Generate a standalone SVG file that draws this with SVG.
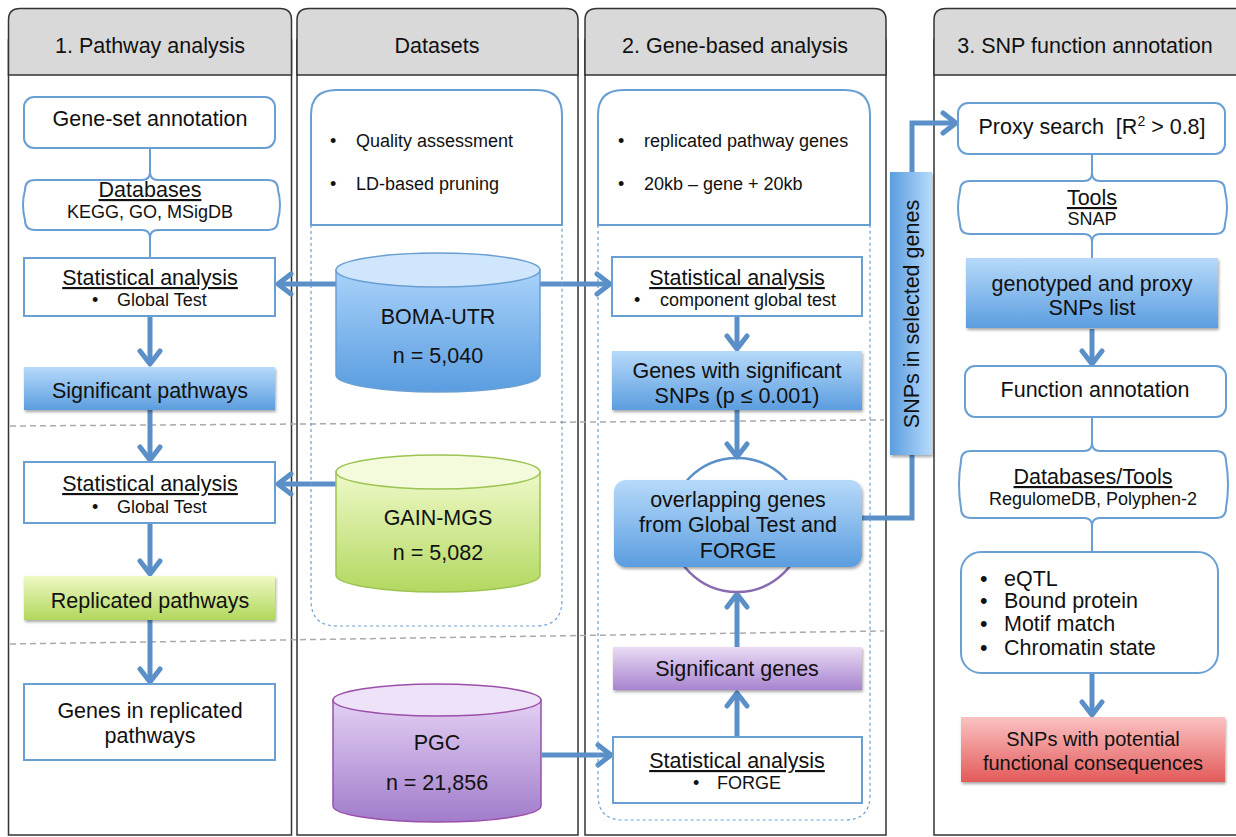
<svg xmlns="http://www.w3.org/2000/svg" width="1236" height="837" viewBox="0 0 1236 837">
<defs>
<style>
text{font-family:"Liberation Sans",Arial,sans-serif;fill:#111;}
.hd{font-size:21.5px;text-anchor:middle;}
.t20{font-size:21.5px;text-anchor:middle;}
.t19{font-size:20px;text-anchor:middle;}
.t16{font-size:18px;}
.t15{font-size:18px;text-anchor:middle;}
.b22{font-size:21.5px;}
.ul{text-decoration:underline;}
.panel{fill:#fff;stroke:#333;stroke-width:1.5;}
.phead{fill:#d9d9d9;stroke:#333;stroke-width:1.5;}
.box{fill:#fff;stroke:#6a9fd4;stroke-width:2;}
.dash{fill:none;stroke:#6a9fd4;stroke-width:1.2;stroke-dasharray:3,3;}
.arr{fill:none;stroke:#5a8fc8;stroke-width:5;marker-end:url(#ah);}
.thin{fill:none;stroke:#6a9fd4;stroke-width:2;}
.sep{stroke:#aaa;stroke-width:1.5;stroke-dasharray:6,4;fill:none;}
</style>
<marker id="ah" markerUnits="userSpaceOnUse" markerWidth="26" markerHeight="26" viewBox="0 0 26 26" refX="19" refY="13" orient="auto">
<path d="M6 3 L19 13 L6 23" fill="none" stroke="#5a8fc8" stroke-width="5" stroke-linecap="round" stroke-linejoin="round"/>
</marker>
<linearGradient id="gBlue" x1="0" y1="0" x2="0" y2="1"><stop offset="0" stop-color="#b7dafa"/><stop offset="1" stop-color="#5b9ddf"/></linearGradient>
<linearGradient id="gGreen" x1="0" y1="0" x2="0" y2="1"><stop offset="0" stop-color="#eef9c4"/><stop offset="1" stop-color="#b1d75c"/></linearGradient>
<linearGradient id="gPurple" x1="0" y1="0" x2="0" y2="1"><stop offset="0" stop-color="#e9dbf5"/><stop offset="1" stop-color="#a884cf"/></linearGradient>
<linearGradient id="gRed" x1="0" y1="0" x2="0" y2="1"><stop offset="0" stop-color="#fbc2c2"/><stop offset="1" stop-color="#e35a5a"/></linearGradient>
<linearGradient id="cBlue" x1="0" y1="0" x2="0" y2="1"><stop offset="0" stop-color="#a9d2fa"/><stop offset="1" stop-color="#5a9de0"/></linearGradient>
<linearGradient id="cGreen" x1="0" y1="0" x2="0" y2="1"><stop offset="0" stop-color="#eef9c8"/><stop offset="1" stop-color="#b3d860"/></linearGradient>
<linearGradient id="cPurple" x1="0" y1="0" x2="0" y2="1"><stop offset="0" stop-color="#e3d0f3"/><stop offset="1" stop-color="#a17ccb"/></linearGradient>
<linearGradient id="vBlue" x1="0" y1="0" x2="1" y2="0"><stop offset="0" stop-color="#5b9ddf"/><stop offset="1" stop-color="#b7dafa"/></linearGradient>
<filter id="sh" x="-5%" y="-10%" width="110%" height="130%"><feDropShadow dx="1" dy="2" stdDeviation="1.5" flood-color="#000" flood-opacity="0.35"/></filter>
</defs>

<g id="panels">
<rect class="panel" x="8.5" y="40" width="283" height="795"/>
<path class="phead" d="M8.5 75 V20 Q8.5 8.5 20 8.5 H280 Q291.5 8.5 291.5 20 V75 Z"/>
<rect class="panel" x="297" y="40" width="281" height="795"/>
<path class="phead" d="M297 75 V20 Q297 8.5 309 8.5 H566 Q578 8.5 578 20 V75 Z"/>
<rect class="panel" x="585" y="40" width="301" height="795"/>
<path class="phead" d="M585 75 V20 Q585 8.5 597 8.5 H874 Q886 8.5 886 20 V75 Z"/>
<rect class="panel" x="934" y="40" width="310" height="795"/>
<path class="phead" d="M934 75 V20 Q934 8.5 946 8.5 H1244 V75 Z"/>
<text class="hd" x="150" y="53">1. Pathway analysis</text>
<text class="hd" x="437" y="53">Datasets</text>
<text class="hd" x="735" y="53">2. Gene-based analysis</text>
<text class="hd" x="1085" y="53">3. SNP function annotation</text>
<path class="sep" d="M10 426 L884 420"/>
<path class="sep" d="M10 644 L884 631"/>
</g>

<g id="connectors">
<path class="thin" d="M150 148 V174"/>
<path class="thin" d="M150 236 V258"/>
<path class="thin" d="M1092 154 V174"/>
<path class="thin" d="M1092 240 V258"/>
<path class="thin" d="M1092 417 V444"/>
<path class="thin" d="M1092 524 V552"/>
<path class="arr" d="M150 316 V364"/>
<path class="arr" d="M150 410 V460"/>
<path class="arr" d="M150 523 V574"/>
<path class="arr" d="M150 620 V682"/>
<path class="arr" d="M336 284 H278"/>
<path class="arr" d="M540 284 H610"/>
<path class="arr" d="M336 484 H278"/>
<path class="arr" d="M542 755 H611"/>
<path class="arr" d="M737 316 V349"/>
<path class="arr" d="M737 410 V457"/>
<path class="arr" d="M737 737 V693"/>
<path class="arr" d="M737 647 V594"/>
<path fill="none" stroke="#5a8fc8" stroke-width="5" d="M862 518 H912 V455"/>
<path class="arr" d="M912 172 V123 H956"/>
<path class="arr" d="M1092 329 V364"/>
<path class="arr" d="M1092 673 V715"/>
</g>

<g id="col1">
<g id="geneset"><rect class="box" x="24" y="97" width="251" height="51" rx="10"/><text class="t20" x="150" y="126">Gene-set annotation</text></g>
<g id="databases1"><path class="box" d="M25 190 Q25 180 35 180 H142 Q150 180 150 172 Q150 180 158 180 H268 Q278 180 278 190 Q282 205 278 220 Q278 230 268 230 H158 Q150 230 150 238 Q150 230 142 230 H35 Q25 230 25 220 Q21 205 25 190 Z"/>
<text class="t20 ul" x="150" y="197">Databases</text><text class="t15" x="150" y="218">KEGG, GO, MSigDB</text></g>
<g id="stat1"><rect class="box" x="24" y="258" width="251" height="58"/><text class="t20 ul" x="150" y="285">Statistical analysis</text><text class="t16" x="92" y="306">•</text><text class="t16" x="117" y="306">Global Test</text></g>
<g id="sigpath"><rect x="24" y="367" width="251" height="43" fill="url(#gBlue)" filter="url(#sh)"/><text class="t20" x="150" y="398">Significant pathways</text></g>
<g id="stat2"><rect class="box" x="24" y="462" width="251" height="61"/><text class="t20 ul" x="150" y="491">Statistical analysis</text><text class="t16" x="92" y="513">•</text><text class="t16" x="117" y="513">Global Test</text></g>
<g id="reppath"><rect x="24" y="576" width="251" height="44" fill="url(#gGreen)" filter="url(#sh)"/><text class="t20" x="150" y="608">Replicated pathways</text></g>
<g id="genesrep"><rect class="box" x="24" y="684" width="251" height="76"/><text class="t20" x="150" y="718">Genes in replicated</text><text class="t20" x="150" y="743">pathways</text></g>
</g>

<g id="col2">
<g id="qc"><path class="box" d="M311 225 V115 Q311 90 336 90 H537 Q562 90 562 115 V225 Z"/>
<path class="dash" d="M311 225 V600 Q311 626 337 626 H536 Q562 626 562 600 V225"/>
<text class="t16" x="330" y="147">•</text><text class="t16" x="356" y="147">Quality assessment</text>
<text class="t16" x="330" y="190">•</text><text class="t16" x="356" y="190">LD-based pruning</text></g>
<g id="boma"><path d="M336 270 V375 A102 17 0 0 0 540 375 V270 Z" fill="url(#cBlue)" stroke="#6a9fd4" stroke-width="1.5"/>
<ellipse cx="438" cy="270" rx="102" ry="17" fill="#cfe6fc" stroke="#6a9fd4" stroke-width="1.5"/>
<text class="t20" x="438" y="324">BOMA-UTR</text><text class="t20" x="438" y="363">n = 5,040</text></g>
<g id="gain"><path d="M336 472 V575 A102 17 0 0 0 540 575 V472 Z" fill="url(#cGreen)" stroke="#9cc452" stroke-width="1.5"/>
<ellipse cx="438" cy="472" rx="102" ry="17" fill="#f4fbdc" stroke="#9cc452" stroke-width="1.5"/>
<text class="t20" x="438" y="525">GAIN-MGS</text><text class="t20" x="438" y="560">n = 5,082</text></g>
<g id="pgc"><path d="M333 700 V806 A104 16 0 0 0 541 806 V700 Z" fill="url(#cPurple)" stroke="#9b4fa8" stroke-width="1.5"/>
<ellipse cx="437" cy="700" rx="104" ry="16" fill="#eee2f8" stroke="#9b4fa8" stroke-width="1.5"/>
<text class="t20" x="437" y="750">PGC</text><text class="t20" x="437" y="790">n = 21,856</text></g>
</g>

<g id="col3">
<g id="genebox"><path class="box" d="M598 225 V115 Q598 90 623 90 H845 Q870 90 870 115 V225 Z"/>
<path class="dash" d="M598 225 V795 Q598 820 623 820 H845 Q870 820 870 795 V225"/>
<text class="t16" x="618" y="147">•</text><text class="t16" x="644" y="147">replicated pathway genes</text>
<text class="t16" x="618" y="190">•</text><text class="t16" x="644" y="190">20kb – gene + 20kb</text></g>
<g id="stat3"><rect class="box" x="612" y="257" width="250" height="59"/><text class="t20 ul" x="737" y="285">Statistical analysis</text><text class="t16" x="634" y="306">•</text><text class="t16" x="660" y="306">component global test</text></g>
<g id="sigsnp"><rect x="612" y="351" width="250" height="59" fill="url(#gBlue)" filter="url(#sh)"/><text class="t20" x="737" y="378">Genes with significant</text><text class="t20" x="737" y="403">SNPs (p ≤ 0.001)</text></g>
<g id="overlap"><path d="M670 525 A67 67 0 0 1 804 525" fill="none" stroke="#5a8fc8" stroke-width="2.5"/>
<path d="M670 525 A67 67 0 0 0 804 525" fill="none" stroke="#8a6bb0" stroke-width="2.5"/>
<rect x="614" y="480" width="248" height="87" rx="12" fill="url(#gBlue)" filter="url(#sh)"/>
<text class="t20" x="738" y="507">overlapping genes</text><text class="t20" x="738" y="532">from Global Test and</text><text class="t20" x="738" y="558">FORGE</text></g>
<g id="siggenes"><rect x="613" y="647" width="249" height="43" fill="url(#gPurple)" filter="url(#sh)"/><text class="t20" x="737" y="676">Significant genes</text></g>
<g id="stat4"><rect class="box" x="613" y="737" width="249" height="66"/><text class="t20 ul" x="737" y="768">Statistical analysis</text><text class="t16" x="693" y="789">•</text><text class="t16" x="717" y="789">FORGE</text></g>
</g>

<g id="snpbar"><rect x="890" y="172" width="42" height="283" fill="url(#vBlue)" filter="url(#sh)"/><text class="t20" transform="translate(919 314) rotate(-90)">SNPs in selected genes</text></g>

<g id="col4">
<g id="proxy"><rect class="box" x="958" y="103" width="267" height="51" rx="10"/><text class="t20" x="1092" y="134" xml:space="preserve">Proxy search  [R<tspan font-size="14" dy="-8">2</tspan><tspan dy="8"> &gt; 0.8]</tspan></text></g>
<g id="tools"><path class="box" d="M960 191 Q960 181 970 181 H1084 Q1092 181 1092 173 Q1092 181 1100 181 H1215 Q1225 181 1225 191 Q1229 208 1225 224 Q1225 234 1215 234 H1100 Q1092 234 1092 242 Q1092 234 1084 234 H970 Q960 234 960 224 Q956 208 960 191 Z"/>
<text class="t20 ul" x="1092" y="205">Tools</text><text class="t15" x="1092" y="225">SNAP</text></g>
<g id="genotyped"><rect x="966" y="258" width="252" height="70" fill="url(#gBlue)" filter="url(#sh)"/><text class="t20" x="1092" y="291">genotyped and proxy</text><text class="t20" x="1092" y="315">SNPs list</text></g>
<g id="funcann"><rect class="box" x="965" y="366" width="261" height="51" rx="10"/><text class="t20" x="1095" y="397">Function annotation</text></g>
<g id="dbtools"><path class="box" d="M961 461 Q961 451 971 451 H1084 Q1092 451 1092 443 Q1092 451 1100 451 H1216 Q1226 451 1226 461 Q1230 485 1226 508 Q1226 518 1216 518 H1100 Q1092 518 1092 526 Q1092 518 1084 518 H971 Q961 518 961 508 Q957 485 961 461 Z"/>
<text class="t20 ul" x="1093" y="484">Databases/Tools</text><text class="t15" x="1093" y="505">RegulomeDB, Polyphen-2</text></g>
<g id="bullets"><rect class="box" x="961" y="552" width="257" height="121" rx="20"/>
<text class="b22" x="980" y="586">•</text><text class="b22" x="1004" y="586">eQTL</text>
<text class="b22" x="980" y="608">•</text><text class="b22" x="1004" y="608">Bound protein</text>
<text class="b22" x="980" y="631">•</text><text class="b22" x="1004" y="631">Motif match</text>
<text class="b22" x="980" y="655">•</text><text class="b22" x="1004" y="655">Chromatin state</text></g>
<g id="snpfunc"><rect x="961" y="717" width="264" height="65" fill="url(#gRed)" filter="url(#sh)"/><text class="t19" x="1093" y="746">SNPs with potential</text><text class="t19" x="1093" y="770">functional consequences</text></g>
</g>
</svg>
